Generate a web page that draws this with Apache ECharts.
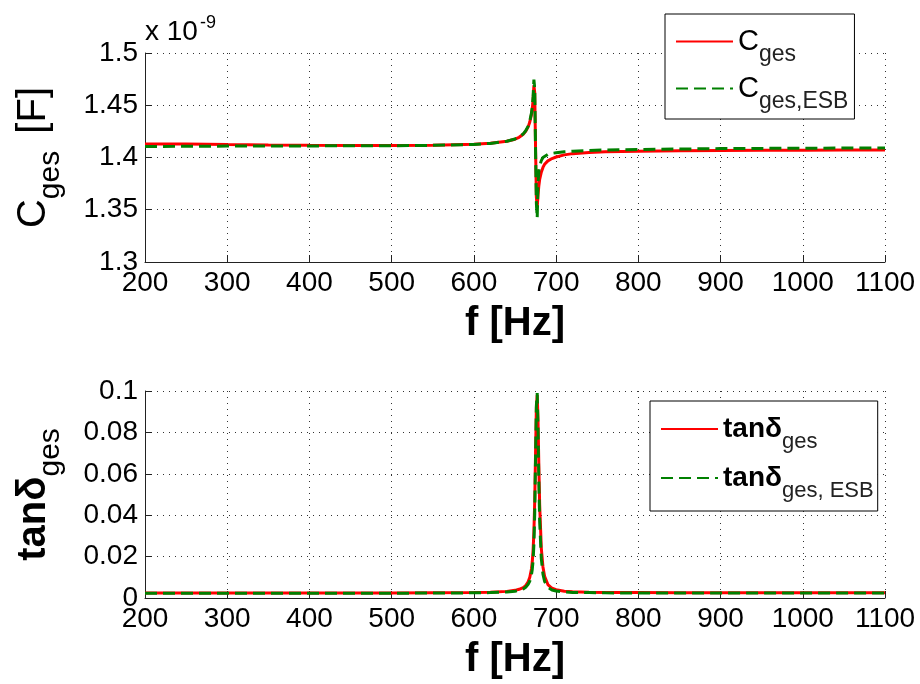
<!DOCTYPE html>
<html><head><meta charset="utf-8">
<script src="https://cdn.jsdelivr.net/npm/echarts@6/dist/echarts.min.js"></script>
<style>html,body{margin:0;padding:0;background:#fff}#c{width:920px;height:684px}</style>
</head><body><div id="c"></div>
<script>
const freq = [200,250,300,350,400,450,500,550,600,620,640,650,655,660,663,666,668,670,671,672,673,674,675,676,677,678,679,680,682,684,686,690,695,700,710,720,740,760,800,850,900,950,1000,1050,1100];
// capacitance in units of 1e-9 F
const cGes = [1.4128,1.4130,1.4124,1.4120,1.4117,1.4115,1.4114,1.4117,1.4126,1.4136,1.4155,1.4175,1.4193,1.4222,1.4250,1.4293,1.4340,1.4410,1.4465,1.4550,1.4690,1.4620,1.4100,1.3620,1.3520,1.3640,1.3730,1.3790,1.3860,1.3905,1.3935,1.3968,1.3990,1.4005,1.4025,1.4037,1.4048,1.4054,1.4061,1.4065,1.4068,1.4069,1.4070,1.4071,1.4071];
const cGesESB = [1.4105,1.4107,1.4109,1.4110,1.4111,1.4112,1.4113,1.4116,1.4125,1.4135,1.4155,1.4177,1.4196,1.4226,1.4256,1.4300,1.4350,1.4425,1.4485,1.4580,1.4745,1.4660,1.4060,1.3560,1.3420,1.3750,1.3870,1.3920,1.3970,1.4000,1.4015,1.4030,1.4040,1.4045,1.4055,1.4060,1.4068,1.4072,1.4077,1.4081,1.4085,1.4087,1.4089,1.4090,1.4091];
const tanGes = [0.0024,0.0024,0.0024,0.0024,0.0024,0.0024,0.0024,0.0025,0.0026,0.0028,0.0032,0.0037,0.0042,0.0050,0.0060,0.0078,0.0100,0.0140,0.0175,0.0230,0.0320,0.0470,0.0700,0.0920,0.0980,0.0860,0.0640,0.0450,0.0240,0.0150,0.0105,0.0065,0.0047,0.0040,0.0033,0.0030,0.0028,0.0027,0.0026,0.0025,0.0025,0.0025,0.0025,0.0025,0.0025];
const tanGesESB = [0.0023,0.0023,0.0023,0.0023,0.0023,0.0023,0.0023,0.0024,0.0025,0.0026,0.0029,0.0033,0.0037,0.0044,0.0052,0.0066,0.0082,0.0112,0.0138,0.0180,0.0260,0.0410,0.0680,0.0930,0.0990,0.0820,0.0560,0.0370,0.0190,0.0115,0.0080,0.0052,0.0039,0.0034,0.0029,0.0027,0.0026,0.0025,0.0024,0.0024,0.0024,0.0024,0.0024,0.0024,0.0024];
const xTicks = [200,300,400,500,600,700,800,900,1000,1100];
const cTicks = [1.3,1.35,1.4,1.45,1.5];
const tanTicks = [0,0.02,0.04,0.06,0.08,0.1];

const FF = "'Liberation Sans', Arial, sans-serif";
const pair = (ys) => freq.map((f, i) => [f, ys[i]]);
const chart = echarts.init(document.getElementById('c'));

const gridLine = { show: true, lineStyle: { color: '#333', type: [1, 5], width: 1 } };
const axisLine = { show: true, onZero: false, lineStyle: { color: '#222', width: 1 } };
const tick = { show: true, inside: true, length: 7, lineStyle: { color: '#222' } };

function xAxis(gi) {
  return {
    type: 'value', gridIndex: gi, min: xTicks[0], max: xTicks[xTicks.length - 1],
    interval: xTicks[1] - xTicks[0],
    axisLine, axisTick: tick, splitLine: gridLine,
    axisLabel: { color: '#000', fontSize: 28, fontFamily: FF, margin: 7, formatter: v => String(v) },
    name: 'f [Hz]', nameLocation: 'middle', nameGap: 42,
    nameTextStyle: { color: '#000', fontSize: 40, fontFamily: FF, fontWeight: 'bold' }
  };
}

const legendBase = {
  orient: 'vertical', itemWidth: 57, itemHeight: 14,
  borderColor: '#000', borderWidth: 1, backgroundColor: '#fff',
  selectedMode: false, itemStyle: { opacity: 0, borderWidth: 0 }
};

chart.setOption({
  animation: false,
  backgroundColor: '#fff',
  grid: [
    { left: 145, top: 53, width: 740, height: 209 },
    { left: 145, top: 391, width: 740, height: 207 }
  ],
  xAxis: [xAxis(0), xAxis(1)],
  yAxis: [
    {
      type: 'value', gridIndex: 0, min: cTicks[0], max: cTicks[cTicks.length - 1],
      interval: cTicks[1] - cTicks[0],
      axisLine, axisTick: tick, splitLine: gridLine,
      axisLabel: { color: '#000', fontSize: 28, fontFamily: FF, margin: 7,
        formatter: v => String(+v.toFixed(2)) },
      name: 'C{s|ges} [F]', nameLocation: 'middle', nameGap: 79, nameRotate: 90,
      nameTextStyle: { color: '#000', fontSize: 40, fontFamily: FF,
        rich: { s: { fontSize: 30, fontFamily: FF, color: '#000', padding: [34, 6, 0, 0] } } }
    },
    {
      type: 'value', gridIndex: 1, min: tanTicks[0], max: tanTicks[tanTicks.length - 1],
      interval: tanTicks[1] - tanTicks[0],
      axisLine, axisTick: tick, splitLine: gridLine,
      axisLabel: { color: '#000', fontSize: 28, fontFamily: FF, margin: 7,
        formatter: v => String(+v.toFixed(2)) },
      name: 'tanδ{s|ges}', nameLocation: 'middle', nameGap: 79, nameRotate: 90,
      nameTextStyle: { color: '#000', fontSize: 40, fontFamily: FF, fontWeight: 'bold',
        rich: { s: { fontSize: 30, fontFamily: FF, fontWeight: 'normal', color: '#000', padding: [34, 0, 0, 0] } } }
    }
  ],
  legend: [
    Object.assign({}, legendBase, {
      data: ['Cges', 'CgesESB'], left: 665, top: 14, padding: [13, 6, 6, 10], itemGap: 8,
      formatter: n => n === 'Cges' ? '{m|C}{s|ges}' : '{m|C}{s|ges,ESB}',
      textStyle: { rich: {
        m: { fontSize: 29, fontFamily: FF, color: '#000' },
        s: { fontSize: 23, fontFamily: FF, color: '#222', padding: [26, 0, 0, 0] }
      } }
    }),
    Object.assign({}, legendBase, {
      data: ['tan', 'tanESB'], left: 650, top: 401, padding: [14, 4, 9, 10], itemGap: 11,
      formatter: n => n === 'tan' ? '{m|tanδ}{s|ges}' : '{m|tanδ}{s|ges, ESB}',
      textStyle: { rich: {
        m: { fontSize: 28, fontFamily: FF, fontWeight: 'bold', color: '#000' },
        s: { fontSize: 22, fontFamily: FF, color: '#222', padding: [26, 0, 0, 0] }
      } }
    })
  ],
  graphic: [{
    type: 'text', left: 145, top: 14,
    style: { text: 'x 10{e|-9}', font: "28px 'Liberation Sans', Arial, sans-serif", fill: '#000',
      rich: { e: { fontSize: 18, fontFamily: FF, fill: '#000', padding: [0, 0, 18, 2] } } }
  }],
  series: [
    { name: 'Cges', type: 'line', xAxisIndex: 0, yAxisIndex: 0, data: pair(cGes), showSymbol: false, symbol: 'none',
      lineStyle: { color: '#ff0000', width: 3 }, itemStyle: { color: '#ff0000' } },
    { name: 'CgesESB', type: 'line', xAxisIndex: 0, yAxisIndex: 0, data: pair(cGesESB), showSymbol: false, symbol: 'none',
      lineStyle: { color: '#008000', width: 3, type: [12, 6] }, itemStyle: { color: '#008000' } },
    { name: 'tan', type: 'line', xAxisIndex: 1, yAxisIndex: 1, data: pair(tanGes), showSymbol: false, symbol: 'none',
      lineStyle: { color: '#ff0000', width: 3 }, itemStyle: { color: '#ff0000' } },
    { name: 'tanESB', type: 'line', xAxisIndex: 1, yAxisIndex: 1, data: pair(tanGesESB), showSymbol: false, symbol: 'none',
      lineStyle: { color: '#008000', width: 3, type: [12, 6] }, itemStyle: { color: '#008000' } }
  ]
});
</script></body></html>
